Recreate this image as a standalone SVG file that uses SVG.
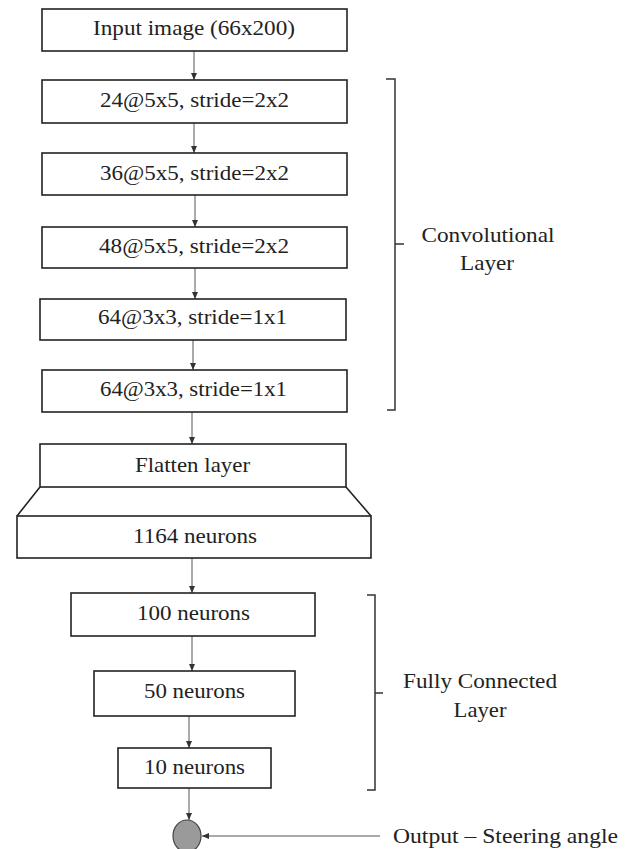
<svg xmlns="http://www.w3.org/2000/svg" width="629" height="849" viewBox="0 0 629 849">
<defs>
<marker id="ah" markerWidth="8" markerHeight="8" refX="7" refY="4" orient="auto" markerUnits="userSpaceOnUse">
<path d="M0,1 L7,4 L0,7 Z" fill="#333"/>
</marker>
<style>
.box{fill:#fff;stroke:#222;stroke-width:1.6}
.t{font-family:"Liberation Serif","Times New Roman",serif;font-size:21px;fill:#222}
.c{text-anchor:middle}
.ln{stroke:#555;stroke-width:1;fill:none}
.br{stroke:#333;stroke-width:1.5;fill:none}
</style>
</defs>
<rect width="629" height="849" fill="#fff"/>
<g id="connectors">
<line class="ln" x1="194" y1="51" x2="194" y2="80" marker-end="url(#ah)"/>
<line class="ln" x1="194" y1="123" x2="194" y2="153" marker-end="url(#ah)"/>
<line class="ln" x1="195" y1="195" x2="195" y2="227" marker-end="url(#ah)"/>
<line class="ln" x1="195" y1="268" x2="195" y2="299" marker-end="url(#ah)"/>
<line class="ln" x1="193" y1="340" x2="193" y2="370" marker-end="url(#ah)"/>
<line class="ln" x1="192" y1="412" x2="192" y2="444" marker-end="url(#ah)"/>
<line class="ln" x1="192" y1="558" x2="192" y2="593" marker-end="url(#ah)"/>
<line class="ln" x1="192" y1="636" x2="192" y2="671" marker-end="url(#ah)"/>
<line class="ln" x1="189" y1="716" x2="189" y2="748" marker-end="url(#ah)"/>
<line class="ln" x1="189" y1="788" x2="189" y2="820" marker-end="url(#ah)"/>
<line class="ln" x1="380" y1="836" x2="202" y2="836" marker-end="url(#ah)"/>
</g>
<g id="input">
<rect class="box" x="42" y="9" width="305" height="42"/>
<text class="t" x="93" y="35" textLength="202" lengthAdjust="spacingAndGlyphs">Input image (66x200)</text>
</g>
<g id="conv1">
<rect class="box" x="42" y="80" width="305" height="43"/>
<text class="t" x="100" y="107" textLength="189" lengthAdjust="spacingAndGlyphs">24@5x5, stride=2x2</text>
</g>
<g id="conv2">
<rect class="box" x="42" y="153" width="305" height="42"/>
<text class="t" x="100" y="180" textLength="189" lengthAdjust="spacingAndGlyphs">36@5x5, stride=2x2</text>
</g>
<g id="conv3">
<rect class="box" x="42" y="227" width="305" height="41"/>
<text class="t" x="99" y="253" textLength="190" lengthAdjust="spacingAndGlyphs">48@5x5, stride=2x2</text>
</g>
<g id="conv4">
<rect class="box" x="40" y="299" width="306" height="41"/>
<text class="t" x="98" y="324" textLength="189" lengthAdjust="spacingAndGlyphs">64@3x3, stride=1x1</text>
</g>
<g id="conv5">
<rect class="box" x="42" y="370" width="305" height="42"/>
<text class="t" x="100" y="396" textLength="187" lengthAdjust="spacingAndGlyphs">64@3x3, stride=1x1</text>
</g>
<g id="conv-bracket">
<path class="br" d="M386,79 L395,79 L395,410 L387,410 M395,244 L404,244"/>
<text class="t c" x="488" y="242" textLength="133" lengthAdjust="spacingAndGlyphs">Convolutional</text>
<text class="t c" x="487" y="270" textLength="54" lengthAdjust="spacingAndGlyphs">Layer</text>
</g>
<g id="flatten">
<rect class="box" x="40" y="444" width="306" height="43"/>
<text class="t" x="135" y="472" textLength="115" lengthAdjust="spacingAndGlyphs">Flatten layer</text>
<line class="box" x1="40" y1="487" x2="17" y2="516"/>
<line class="box" x1="346" y1="487" x2="371" y2="516"/>
</g>
<g id="n1164">
<rect class="box" x="17" y="516" width="354" height="42"/>
<text class="t" x="133" y="543" textLength="124" lengthAdjust="spacingAndGlyphs">1164 neurons</text>
</g>
<g id="n100">
<rect class="box" x="71" y="593" width="244" height="43"/>
<text class="t" x="137" y="620" textLength="113" lengthAdjust="spacingAndGlyphs">100 neurons</text>
</g>
<g id="n50">
<rect class="box" x="94" y="671" width="201" height="45"/>
<text class="t" x="144" y="698" textLength="101" lengthAdjust="spacingAndGlyphs">50 neurons</text>
</g>
<g id="n10">
<rect class="box" x="118" y="748" width="153" height="40"/>
<text class="t" x="144" y="774" textLength="101" lengthAdjust="spacingAndGlyphs">10 neurons</text>
</g>
<g id="fc-bracket">
<path class="br" d="M367,595 L375,595 L375,790 L367,790 M375,693 L383,693"/>
<text class="t c" x="480" y="688" textLength="154" lengthAdjust="spacingAndGlyphs">Fully Connected</text>
<text class="t c" x="480" y="717" textLength="53" lengthAdjust="spacingAndGlyphs">Layer</text>
</g>
<g id="output">
<ellipse cx="187" cy="836" rx="14" ry="16" fill="#9a9a9a" stroke="#444" stroke-width="1.2"/>
<text class="t" x="393" y="843" textLength="225" lengthAdjust="spacingAndGlyphs">Output – Steering angle</text>
</g>
</svg>
